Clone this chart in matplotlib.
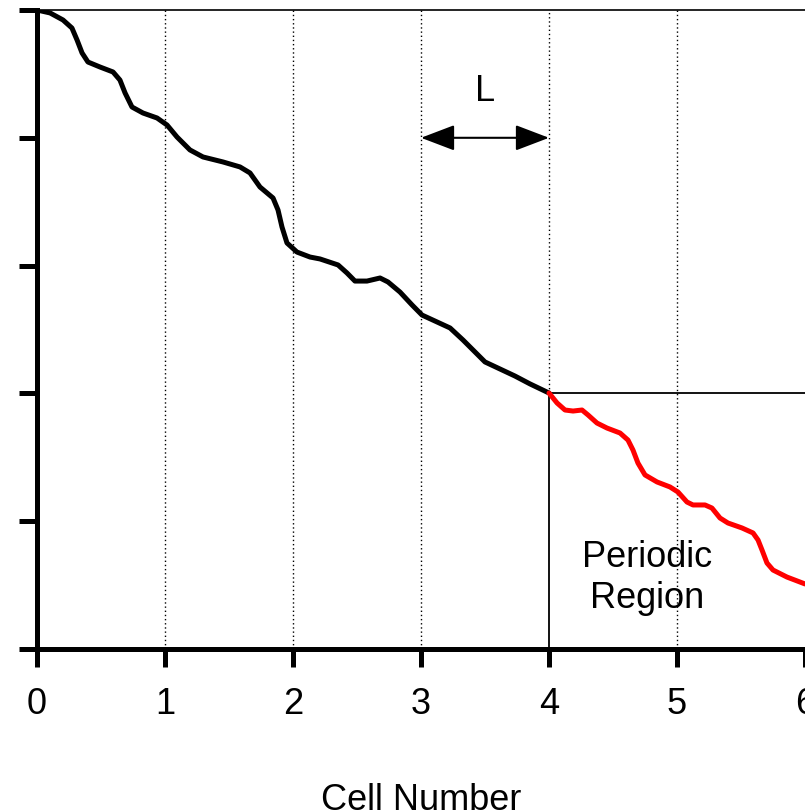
import matplotlib.pyplot as plt

plt.rcParams['font.family'] = ['Liberation Sans', 'DejaVu Sans']

# curve before the periodic region
x_entry = [0.000, 0.102, 0.203, 0.273, 0.313, 0.352, 0.398, 0.492, 0.594, 0.648,
           0.688, 0.742, 0.828, 0.938, 1.016, 1.094, 1.195, 1.297, 1.453, 1.586,
           1.664, 1.742, 1.844, 1.883, 1.914, 1.953, 2.031, 2.133, 2.211, 2.352,
           2.422, 2.484, 2.578, 2.680, 2.742, 2.836, 2.930, 3.008, 3.125, 3.227,
           3.328, 3.406, 3.500, 3.617, 3.734, 3.852, 4.000]
y_entry = [5.000, 4.977, 4.922, 4.859, 4.765, 4.664, 4.593, 4.554, 4.515, 4.452,
           4.351, 4.241, 4.194, 4.155, 4.100, 4.006, 3.905, 3.850, 3.811, 3.772,
           3.725, 3.615, 3.529, 3.435, 3.302, 3.177, 3.106, 3.067, 3.052, 3.005,
           2.942, 2.879, 2.879, 2.903, 2.872, 2.793, 2.692, 2.613, 2.559, 2.512,
           2.418, 2.340, 2.246, 2.191, 2.136, 2.074, 2.003]

# curve inside the periodic region
x_periodic = [4.000, 4.063, 4.125, 4.188, 4.258, 4.305, 4.375, 4.453, 4.555, 4.617,
              4.656, 4.695, 4.750, 4.844, 4.945, 5.008, 5.078, 5.125, 5.219, 5.273,
              5.336, 5.398, 5.508, 5.594, 5.633, 5.664, 5.703, 5.750, 5.859, 6.000]
y_periodic = [2.003, 1.925, 1.870, 1.862, 1.870, 1.831, 1.768, 1.729, 1.690, 1.635,
              1.557, 1.455, 1.362, 1.307, 1.268, 1.228, 1.150, 1.127, 1.127, 1.103,
              1.025, 0.986, 0.947, 0.908, 0.853, 0.775, 0.673, 0.618, 0.563, 0.509]

x_ticks = [0, 1, 2, 3, 4, 5, 6]
y_ticks = [0, 1, 2, 3, 4, 5]
grid_x = [1, 2, 3, 5]

fig = plt.figure(figsize=(8.05, 8.11), dpi=100)
ax = fig.add_axes([37 / 805, 162 / 811, 768 / 805, 639 / 811])
ax.set_xlim(0, 6)
ax.set_ylim(0, 5)

# dotted cell boundaries
for gx in grid_x:
    ax.axvline(gx, color='black', lw=1, ls=(0, (1, 2)), zorder=1)
ax.plot([4, 4], [2, 5], color='black', lw=1, ls=(0, (1, 2)), zorder=1)

# periodic region box
ax.plot([4, 4, 6], [0, 2, 2], color='black', lw=1.3, zorder=2)

ax.plot(x_entry, y_entry, color='black', lw=3.6, solid_capstyle='round',
        solid_joinstyle='round', zorder=3)
ax.plot(x_periodic, y_periodic, color='red', lw=3.6, solid_capstyle='round',
        solid_joinstyle='round', zorder=3)

# cell length arrow
ax.annotate('', xy=(3, 4), xytext=(4, 4),
            arrowprops=dict(arrowstyle='<|-|>,head_length=2.1,head_width=0.8',
                            color='black', lw=1.5, shrinkA=0, shrinkB=0))
ax.text(3.5, 4.36, 'L', fontsize=26, ha='center', va='center')
ax.text(4.77, 0.556, 'Periodic\nRegion', fontsize=26, ha='center', va='center',
        linespacing=1.25)

ax.spines['left'].set_linewidth(3.6)
ax.spines['bottom'].set_linewidth(3.6)
ax.spines['top'].set_linewidth(1.2)
ax.spines['right'].set_visible(False)

ax.set_xticks(x_ticks)
ax.set_yticks(y_ticks)
ax.set_yticklabels([])
ax.tick_params(axis='both', direction='out', length=13, width=3.6, labelsize=26, pad=14)
ax.set_xlabel('Cell Number', fontsize=26, labelpad=44)

for spine in ax.spines.values():
    spine.set_clip_on(False)

fig.savefig('out.png', dpi=100)
